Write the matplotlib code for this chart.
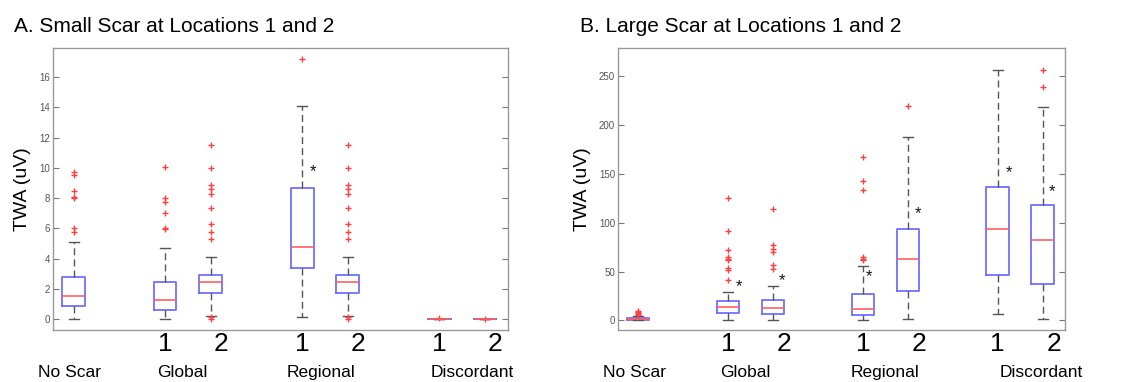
import matplotlib
matplotlib.use("Agg")
import matplotlib.pyplot as plt
import matplotlib.transforms as mtransforms

plt.rcParams['font.family'] = ['Liberation Sans', 'DejaVu Sans']

# box positions: No Scar, Global 1/2, Regional 1/2, Discordant 1/2
positions = [1, 3, 4, 6, 7, 9, 10]
group_names = ["No Scar", "Global", "Regional", "Discordant"]
loc_labels = ["1", "2", "1", "2", "1", "2"]

# panel A: small scar (whislo, q1, med, q3, whishi)
a_whislo = [0.04, 0.04, 0.22, 0.13, 0.22, 0.0, 0.0]
a_q1 = [0.88, 0.62, 1.76, 3.37, 1.76, 0.0, 0.0]
a_med = [1.56, 1.28, 2.47, 4.78, 2.47, 0.0, 0.0]
a_q3 = [2.82, 2.49, 2.91, 8.70, 2.91, 0.0, 0.0]
a_whishi = [5.11, 4.71, 4.10, 14.07, 4.10, 0.0, 0.0]
a_fliers = [
    [9.7, 9.5, 8.5, 8.1, 8.0, 6.0, 5.8],
    [10.07, 8.04, 7.73, 7.0, 6.06, 5.97],
    [11.52, 10.02, 8.88, 8.59, 8.26, 7.33, 6.3, 5.77, 5.31, 0.13, 0.05],
    [17.16],
    [11.52, 10.02, 8.88, 8.59, 8.26, 7.33, 6.3, 5.77, 5.31, 0.13, 0.05],
    [0.08],
    [0.05],
]
a_star_x = [6.24]
a_star_y = [9.76]

# panel B: large scar
b_whislo = [0.0, 0.0, 0.0, 0.0, 1.0, 6.8, 1.4]
b_q1 = [0.5, 7.8, 6.5, 5.8, 30.4, 46.0, 37.5]
b_med = [1.5, 13.6, 12.3, 11.9, 63.1, 93.5, 81.9]
b_q3 = [2.7, 19.8, 20.5, 26.6, 93.8, 136.4, 118.3]
b_whishi = [4.5, 29.0, 35.1, 55.3, 187.6, 256.5, 218.6]
b_fliers = [
    [5.5, 6.5, 7.5, 8.5, 9.5],
    [125.5, 92.0, 72.3, 64.8, 63.0, 61.4, 53.9, 51.8, 40.9],
    [114.3, 77.4, 73.3, 69.9, 56.3, 52.5],
    [167.0, 143.0, 134.0, 64.8, 63.0, 61.5],
    [220.0],
    [],
    [256.8, 238.7],
]
b_star_x = [3.25, 4.2, 6.14, 7.22, 9.25, 10.22]
b_star_y = [34.8, 40.2, 45.0, 109.8, 151.8, 132.3]

fig = plt.figure(figsize=(11.37, 3.82), dpi=100)
ax_a = fig.add_axes([0.0466, 0.136, 0.400, 0.738])
ax_b = fig.add_axes([0.5435, 0.136, 0.3932, 0.738])


def draw_panel(ax, whislo, q1, med, q3, whishi, fliers, star_x, star_y,
               ylim, yticks, title, group_x, digit_dx):
    stats = []
    for i in range(len(positions)):
        stats.append(dict(whislo=whislo[i], q1=q1[i], med=med[i], q3=q3[i],
                          whishi=whishi[i], fliers=fliers[i]))
    ax.bxp(stats, positions=positions, widths=0.5, capwidths=0.22,
           boxprops=dict(color='#6f6fff', linewidth=1.3),
           medianprops=dict(color='#ff6060', linewidth=1.2),
           whiskerprops=dict(color='#555555', linewidth=1.0, linestyle=(0, (5, 3))),
           capprops=dict(color='#555555', linewidth=1.0),
           flierprops=dict(marker='+', markeredgecolor='#ff4040', markersize=4,
                           markeredgewidth=1.0, linestyle='none'))
    for sx, sy in zip(star_x, star_y):
        ax.text(sx, sy, '*', fontsize=12, ha='center', va='center', color='#111111')
    ax.set_xlim(0.55, 10.5)
    ax.set_ylim(*ylim)
    ax.set_yticks(yticks)
    ax.set_xticks([])
    ax.tick_params(axis='y', direction='in', length=4, labelsize=7,
                   colors='#777777', right=True, left=True, pad=2)
    ax.tick_params(axis='y', labelcolor='#555555')
    for sp in ax.spines.values():
        sp.set_color('#999999')
        sp.set_linewidth(1.0)
    ax.set_ylabel('TWA (uV)', fontsize=14, labelpad=6)

    trans = mtransforms.blended_transform_factory(ax.transData, ax.transAxes)
    for i, lab in enumerate(loc_labels):
        p = positions[i + 1]
        dx = digit_dx if lab == "2" else 0.0
        ax.text(p + dx, -0.007, lab, fontsize=19, ha='center', va='top',
                transform=trans, clip_on=False)
    for gx, name in zip(group_x, group_names):
        ax.text(gx, -0.125, name, fontsize=12.5, ha='center', va='top',
                transform=trans, clip_on=False)
    ax.text(-0.085, 1.057, title, fontsize=15, ha='left', va='baseline',
            transform=ax.transAxes)


draw_panel(ax_a, a_whislo, a_q1, a_med, a_q3, a_whishi, a_fliers,
           a_star_x, a_star_y, (-0.7, 17.9), list(range(0, 17, 2)),
           "A. Small Scar at Locations 1 and 2",
           [0.91, 3.37, 6.41, 9.73], 0.22)
draw_panel(ax_b, b_whislo, b_q1, b_med, b_q3, b_whishi, b_fliers,
           b_star_x, b_star_y, (-10, 279), list(range(0, 251, 50)),
           "B. Large Scar at Locations 1 and 2",
           [0.91, 3.38, 6.49, 9.96], 0.25)

fig.savefig("out.png", dpi=100)
